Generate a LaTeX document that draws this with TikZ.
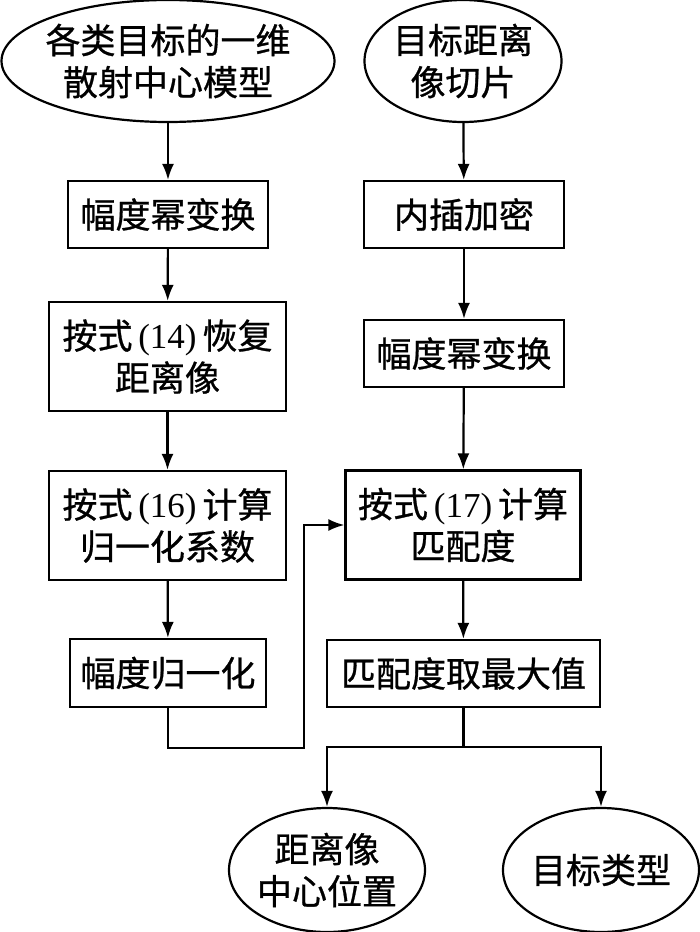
\documentclass[tikz,border=0pt]{standalone}
\usepackage{fontspec}
\setmainfont{Noto Sans CJK SC}[FakeBold=0.8]
\newfontfamily\tnr{Liberation Serif}
\usetikzlibrary{shapes.geometric,arrows.meta}
\tikzset{
  every node/.style={font=\fontsize{35}{42}\selectfont, align=center},
  procbox/.style={draw, rectangle, line width=2.2pt, inner sep=0pt},
  termell/.style={draw, ellipse, line width=2.2pt, inner xsep=-6pt, inner ysep=0pt},
  flow/.style={line width=2.2pt}
}
\newcommand{\eqn}[1]{{\tnr\,(#1)\,}}
\begin{document}
\begin{tikzpicture}[x=1pt,y=-1pt,>={Latex[length=16pt,width=12pt]}]
\useasboundingbox (0,0) rectangle (700,932);

\node[termell, minimum width=333pt, minimum height=122pt] (model) at (168,61) {各类目标的一维\\散射中心模型};
\node[termell, minimum width=197pt, minimum height=122pt] (slice) at (463,61) {目标距离\\像切片};

\node[procbox, minimum width=200pt, minimum height=67pt] (powl) at (168,214.5) {幅度幂变换};
\node[procbox, minimum width=237pt, minimum height=109pt] (recov) at (167.5,356.5) {按式\eqn{14}恢复\\距离像};
\node[procbox, minimum width=237pt, minimum height=109pt] (coef) at (167.5,525.5) {按式\eqn{16}计算\\归一化系数};
\node[procbox, minimum width=196pt, minimum height=68pt] (norm) at (168,673) {幅度归一化};

\node[procbox, minimum width=200pt, minimum height=67pt] (interp) at (464,214.5) {内插加密};
\node[procbox, minimum width=200pt, minimum height=67pt] (powr) at (464,353.5) {幅度幂变换};
\node[procbox, minimum width=235pt, minimum height=109pt] (match) at (463,525) {按式\eqn{17}计算\\匹配度};
\node[procbox, minimum width=273pt, minimum height=67pt] (maxv) at (463.5,673.5) {匹配度取最大值};

\node[termell, minimum width=196pt, minimum height=124pt] (center) at (327,870) {距离像\\中心位置};
\node[termell, minimum width=196pt, minimum height=124pt] (type) at (601,870) {目标类型};

\coordinate (back) at (304,748);
\coordinate (split) at (463.5,747);

\draw[flow,->] (model) -- (powl);
\draw[flow,->] (powl) -- (recov);
\draw[flow,->] (recov) -- (coef);
\draw[flow,->] (coef) -- (norm);
\draw[flow,->] (slice) -- (interp);
\draw[flow,->] (interp) -- (powr);
\draw[flow,->] (powr) -- (match);
\draw[flow,->] (match) -- (maxv);
\draw[flow,->] (norm.south) |- (back) |- (match.west);
\draw[flow] (maxv.south) -- (split);
\draw[flow,->] (split) -| (center.north);
\draw[flow,->] (split) -| (type.north);
\end{tikzpicture}
\end{document}
